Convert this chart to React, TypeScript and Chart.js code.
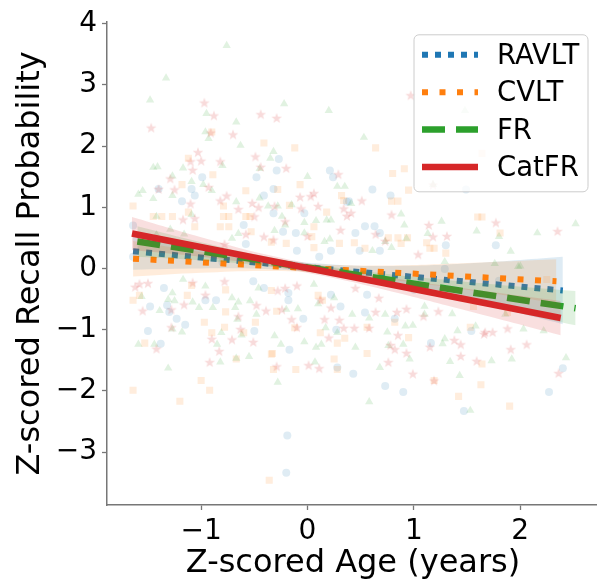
import React, { useEffect, useRef } from 'react';
import { Chart, registerables } from 'chart.js';

Chart.register(...registerables);

// ---------- data ----------
const seriesNames = ['RAVLT', 'CVLT', 'FR', 'CatFR'];
const seriesColors = ['#1f77b4', '#ff7f0e', '#2ca02c', '#d62728'];
const seriesRGB = ['31,119,180', '255,127,14', '44,160,44', '214,39,40'];
const xTicks = [-1, 0, 1, 2];
const yTicks = [-3, -2, -1, 0, 1, 2, 3, 4];

const ravltPoints: number[][] = [
  [-0.27, 1.79], [-0.29, 1.6], [0.21, 1.6], [0.24, 1.49], [-0.99, 1.49], [-0.48, 1.49], [-1.4, 1.3], [-1.09, 1.3],
  [-1.06, 1.19], [-0.32, 1.3], [-0.41, 1.19], [-1.18, 1.1], [0.37, 1.09], [-0.32, 0.9], [-0.03, 0.9], [-0.6, 0.71],
  [-0.23, 0.6], [-0.11, 0.58], [-1.64, 0.7], [-0.58, 0.4], [-0.1, 0.29], [0.11, 0.19], [0.22, 0.29], [-1.64, 0.19],
  [0.61, 1.29], [0.78, 1.19], [1.49, 1.29], [0.54, 0.69], [0.63, 0.69], [0.45, 0.58], [0.68, 0.58], [1.3, 0.38],
  [1.77, 0.38], [0.49, 0.29], [0.68, 0.29], [0.39, 1.1],
  [-1.35, -0.32], [-1.48, -0.62], [-1.32, -0.6], [-1.23, -0.82], [-1.15, -0.92], [-1.5, -1.02], [-1.38, -1.23],
  [-0.96, -0.52], [-0.86, -0.52], [-0.5, -1.02], [-0.17, -1.33], [-0.19, -2.73], [-0.51, -0.21], [-0.41, -0.32],
  [-0.18, -0.4], [-0.18, -0.52], [-0.04, -0.82], [0.31, -0.62], [0.22, -0.43], [0.27, -1.0], [0.28, -1.62],
  [-1.3, -0.71], [-0.2, -3.34],
  [0.43, -1.72], [0.73, -1.92], [0.9, -2.02], [1.47, -2.33], [2.27, -2.02], [2.4, -1.63], [1.16, -1.22],
  [1.54, -1.02], [0.82, -0.82], [0.54, -0.72], [0.56, -0.43], [1.29, -0.01], [1.0, -0.35], [1.8, -0.2], [-0.8, 0.1],
];

const cvltPoints: number[][] = [
  [-0.41, 2.05], [-0.12, 1.97], [-1.12, 1.8], [-0.89, 1.53], [-1.18, 1.37], [-0.58, 1.27], [-0.28, 1.29], [-0.07, 1.37],
  [0.32, 1.19], [0.34, 1.11], [-1.64, 1.02], [-0.79, 1.02], [-0.17, 1.03], [0.18, 0.92], [-1.45, 0.85], [-1.37, 0.85],
  [-1.27, 0.85], [-0.79, 0.85], [-0.74, 0.85], [-0.58, 0.85], [-0.54, 0.85], [-1.12, 0.92], [-1.06, 0.68], [-0.82, 0.68],
  [-0.74, 0.68], [0.06, 0.68], [-0.53, 0.6], [0.04, 0.52], [0.06, 0.34], [0.3, 0.41], [-0.34, 0.43], [-0.2, 0.41],
  [-0.9, 2.23],
  [0.95, 1.28], [0.79, 1.1], [0.85, 1.1], [1.6, 0.84], [1.64, 0.84], [1.81, 0.58], [0.76, 0.5], [0.85, 0.5],
  [0.94, 0.5], [0.88, 0.41], [0.44, 0.42], [0.54, 0.33], [1.15, 0.33], [1.19, 0.33], [1.3, 0.25], [1.12, 0.42],
  [0.64, 1.97], [1.64, 1.88], [0.91, 1.63], [0.8, 1.55],
  [-1.64, -0.52], [-1.58, -0.44], [-1.13, -0.44], [-0.97, -0.88], [-0.9, -1.05], [-0.77, -0.71], [-0.78, -0.96],
  [-0.6, -1.05], [-1.53, -1.22], [-0.67, -1.48], [-0.49, -0.88], [-0.34, -0.36], [-0.29, -0.7], [-0.34, -1.4],
  [-0.32, -1.65], [-0.11, -1.65], [-0.12, -0.97], [0.12, -1.05], [0.28, -1.22], [0.25, -1.48], [0.28, -1.65],
  [0.35, -1.14], [-1.0, -1.83], [-1.64, -1.99], [-0.92, -1.99], [-1.2, -2.17], [0.1, -0.44], [0.14, -0.52],
  [-0.77, -0.35], [-1.09, -0.28], [-0.36, -3.46], [-0.33, -1.39],
  [0.56, -1.39], [1.19, -1.83], [1.42, -2.09], [1.63, -1.9], [1.9, -2.25], [1.64, -1.56], [0.95, -1.13],
  [1.53, -0.96], [0.56, -0.96], [0.82, -0.88], [1.56, -0.62], [1.88, -0.72], [2.25, -0.18],
];

const frPoints: number[][] = [
  [-0.76, 3.64], [-1.33, 3.11], [-1.48, 2.75], [-0.22, 2.69], [0.2, 2.58], [-0.95, 2.53], [-0.67, 2.39], [-0.96, 2.23],
  [-0.93, 2.12], [-0.63, 2.01], [-0.32, 1.91], [-0.35, 1.8], [-1.45, 1.65], [-1.41, 1.66], [-1.17, 1.64], [-0.8, 1.68],
  [-0.45, 1.63], [0.0, 1.5], [-1.27, 1.51], [-1.09, 1.42], [-0.98, 1.37], [-1.59, 1.21], [-1.55, 1.27], [-1.45, 1.14],
  [-0.9, 1.27], [-1.27, 1.19], [-0.45, 1.15], [0.28, 1.34], [0.35, 1.34], [-0.67, 1.09], [-0.37, 1.02], [-0.28, 1.02],
  [-0.15, 1.04], [-1.42, 0.85], [-1.09, 0.88], [-0.24, 0.85], [-0.03, 0.75], [0.18, 0.79], [0.22, 0.79], [0.08, 0.78],
  [-0.21, 0.71], [-0.03, 0.58], [-0.31, 0.62], [0.16, 0.44], [0.21, 0.48], [-0.65, 0.57], [-0.71, 0.49], [-1.29, 0.64],
  [-1.16, 0.56], [-1.42, 0.55],
  [1.48, 2.58], [0.53, 2.14], [1.18, 1.37],
  [0.88, 0.89], [0.91, 0.71], [1.26, 0.77], [1.59, 0.61], [1.8, 0.52], [2.16, 0.58], [2.52, 0.73], [1.13, 0.57],
  [0.93, 0.49], [0.73, 0.44], [0.79, 0.34], [0.61, 0.29], [1.91, 0.28], [2.0, 0.04], [1.76, 0.08], [1.29, 0.11],
  [0.41, 1.06],
  [-1.56, -0.46], [-1.59, -1.24], [-1.44, -1.24], [-1.39, -0.69], [-1.31, -0.51], [-1.25, -0.53], [-1.27, -0.4],
  [-1.18, -1.04], [-1.27, -0.99], [-1.17, -0.18], [-1.08, -0.55], [-1.02, -0.64], [-0.89, -0.64], [-0.96, -0.29],
  [-0.82, -1.53], [-1.31, -1.63], [-0.85, -1.24], [-0.81, -1.05], [-0.71, -0.48], [-0.65, -0.55], [-0.68, -0.64],
  [-0.66, -0.83], [-0.62, -1.09], [-0.55, -1.44], [-0.54, -0.53], [-0.48, -0.75], [-0.31, -1.1], [-0.25, -1.24],
  [-0.28, -1.86], [-0.2, -0.67], [-0.09, -0.66], [-0.03, -1.2], [0.08, -1.29], [0.13, -1.24], [0.07, -1.53],
  [0.17, -0.97], [0.28, -1.05], [0.25, -0.48], [0.1, -0.58], [-0.46, -0.32], [0.06, -0.26], [-0.67, -1.47],
  [0.58, -2.18], [1.53, -2.32], [1.43, -1.75], [0.68, -1.62], [0.96, -1.48], [1.34, -1.52], [1.73, -1.51],
  [1.92, -1.48], [2.43, -1.46], [1.29, -1.15], [1.27, -1.23], [0.76, -1.26], [0.9, -1.24], [1.41, -1.02],
  [2.03, -0.99], [2.22, -1.02], [1.58, -0.94], [0.75, -1.04], [0.45, -1.29], [0.99, -0.93], [0.92, -0.94],
  [0.42, -0.75], [0.58, -0.81], [0.73, -0.75], [1.1, -0.62], [1.36, -0.74], [1.1, -0.75], [1.86, -0.75], [1.98, 0.03],
];

const catfrPoints: number[][] = [
  [-0.97, 2.71], [-0.88, 2.5], [-0.44, 2.52], [-0.29, 2.46], [-1.47, 2.3], [-0.91, 2.22], [-0.7, 2.19], [-1.03, 1.9],
  [-1.1, 1.75], [-1.0, 1.76], [-0.82, 1.75], [-0.49, 1.83], [-0.2, 1.64], [-0.44, 1.66], [-1.08, 1.61], [-1.29, 1.47],
  [0.29, 1.54], [-1.4, 1.3], [-1.25, 1.29], [-0.93, 1.33], [-0.76, 1.19], [0.06, 1.23], [0.03, 1.18], [-0.07, 1.17],
  [-1.1, 1.06], [-0.82, 1.11], [-0.52, 1.07], [-0.46, 1.0], [-0.31, 1.02], [0.1, 1.02], [-0.65, 0.97], [-0.06, 0.98],
  [0.34, 0.98], [0.37, 0.86], [-1.17, 0.8], [-1.06, 0.82], [-0.5, 0.85], [-0.21, 0.77], [0.31, 0.63], [-0.58, 0.56],
  [-0.41, 0.52], [-0.32, 0.47], [-0.78, 0.4], [0.0, 0.53], [0.97, 2.83],
  [0.51, 1.11], [0.79, 0.88], [1.18, 1.37], [1.14, 0.71], [1.77, 0.75], [2.35, 0.61], [0.64, 0.56], [0.73, 0.45],
  [1.18, 0.52], [1.31, 0.53], [1.04, 0.23], [0.41, 0.91],
  [-1.62, -0.3], [-1.58, -0.25], [-1.5, -0.24], [-1.55, -0.69], [-1.28, -0.67], [-1.28, -0.96], [-1.42, -1.31],
  [-1.16, -0.59], [-1.08, -0.23], [-0.96, -0.43], [-0.9, -1.15], [-0.83, -1.35], [-0.92, -1.53], [-0.71, -1.16],
  [-0.65, -0.78], [-0.63, -0.99], [-0.51, -1.2], [-0.48, -0.6], [-0.39, -0.69], [-0.28, -0.36], [-0.21, -0.32],
  [-0.24, -0.67], [-0.15, -0.83], [-0.1, -0.96], [-0.29, -1.6], [0.01, -1.58], [0.11, -1.63], [0.16, -0.83],
  [0.2, -1.13], [0.3, -0.84], [0.22, -0.64], [0.34, -0.97], [-0.1, -0.28], [0.12, -0.51], [-0.78, -0.21],
  [0.64, -0.71], [0.58, -0.97], [0.44, -0.97], [0.85, -1.09], [0.78, -1.25], [0.82, -1.32], [0.93, -1.38],
  [0.76, -1.53], [1.15, -1.28], [1.38, -1.17], [1.44, -1.24], [1.44, -1.43], [1.59, -1.51], [0.99, -1.72],
  [1.19, -1.83], [1.67, -1.04], [1.74, -1.04], [1.91, -1.32], [2.06, -1.24], [2.36, -1.71], [1.09, -0.78],
  [1.23, -0.7], [0.93, -0.66], [0.84, -0.71], [0.67, -0.48], [1.88, -0.98], [1.66, -1.07], [0.45, -0.32],
];

// regression lines (endpoints)
const ravltLineX = [-1.64, 2.4];
const ravltLineY = [0.28, -0.36];
const cvltLineX = [-1.64, 2.34];
const cvltLineY = [0.16, -0.21];
const frLineX = [-1.6, 2.52];
const frLineY = [0.44, -0.65];
const catfrLineX = [-1.65, 2.38];
const catfrLineY = [0.57, -0.81];

// confidence bands
const ravltBandX = [-1.64, -1.0, -0.4, 0.2, 0.8, 1.5, 2.4];
const ravltBandLow = [-0.02, 0.0, -0.01, -0.09, -0.26, -0.52, -0.91];
const ravltBandHigh = [0.58, 0.36, 0.17, 0.07, 0.04, 0.08, 0.19];
const cvltBandX = [-1.64, -1.0, -0.4, 0.2, 0.8, 1.5, 2.34];
const cvltBandLow = [-0.13, -0.07, -0.04, -0.08, -0.19, -0.35, -0.57];
const cvltBandHigh = [0.45, 0.27, 0.12, 0.06, 0.05, 0.09, 0.15];
const frBandX = [-1.6, -1.0, -0.4, 0.2, 0.8, 1.5, 2.52];
const frBandLow = [0.19, 0.13, 0.04, -0.11, -0.3, -0.54, -0.93];
const frBandHigh = [0.69, 0.43, 0.2, 0.03, -0.1, -0.22, -0.37];
const catfrBandX = [-1.65, -1.0, -0.4, 0.2, 0.8, 1.5, 2.38];
const catfrBandLow = [0.3, 0.19, 0.05, -0.14, -0.38, -0.69, -1.09];
const catfrBandHigh = [0.84, 0.51, 0.23, 0.02, -0.16, -0.33, -0.53];

const allPoints = [ravltPoints, cvltPoints, frPoints, catfrPoints];
const allLineX = [ravltLineX, cvltLineX, frLineX, catfrLineX];
const allLineY = [ravltLineY, cvltLineY, frLineY, catfrLineY];
const allBandX = [ravltBandX, cvltBandX, frBandX, catfrBandX];
const allBandLow = [ravltBandLow, cvltBandLow, frBandLow, catfrBandLow];
const allBandHigh = [ravltBandHigh, cvltBandHigh, frBandHigh, catfrBandHigh];

// ---------- styles ----------
const lineDashes = [[6, 7], [6, 11.5], [23, 11], []];
const lineWidths = [6, 6, 6.5, 6.5];
const FONT = 'DejaVu Sans';
const AXIS_COLOR = '#777777';
const TICK_SIZE = 28;
const TITLE_SIZE = 32;
const LEGEND_SIZE = 27.5;

function fmt(v: number) {
  return v < 0 ? '\u2212' + Math.abs(v) : String(v);
}

function makeStar(rgba: string) {
  const c = document.createElement('canvas');
  const s = 12;
  c.width = s;
  c.height = s;
  const ctx = c.getContext('2d')!;
  const cx = s / 2, cy = s / 2 + 0.5, R = 5.6, r = 2.3;
  ctx.beginPath();
  for (let i = 0; i < 10; i++) {
    const rad = i % 2 === 0 ? R : r;
    const a = -Math.PI / 2 + (i * Math.PI) / 5;
    const px = cx + rad * Math.cos(a);
    const py = cy + rad * Math.sin(a);
    if (i === 0) ctx.moveTo(px, py); else ctx.lineTo(px, py);
  }
  ctx.closePath();
  ctx.fillStyle = rgba;
  ctx.fill();
  return c;
}

const legendPlugin = {
  id: 'customLegend',
  afterDraw(chart: any) {
    const { ctx, chartArea } = chart;
    const bw = 174, bh = 157;
    const bx = chartArea.right - bw - 11;
    const by = chartArea.top + 13;
    ctx.save();
    ctx.beginPath();
    const r = 5;
    ctx.moveTo(bx + r, by);
    ctx.lineTo(bx + bw - r, by);
    ctx.arcTo(bx + bw, by, bx + bw, by + r, r);
    ctx.lineTo(bx + bw, by + bh - r);
    ctx.arcTo(bx + bw, by + bh, bx + bw - r, by + bh, r);
    ctx.lineTo(bx + r, by + bh);
    ctx.arcTo(bx, by + bh, bx, by + bh - r, r);
    ctx.lineTo(bx, by + r);
    ctx.arcTo(bx, by, bx + r, by, r);
    ctx.closePath();
    ctx.fillStyle = 'rgba(255,255,255,0.8)';
    ctx.fill();
    ctx.lineWidth = 1;
    ctx.strokeStyle = '#cccccc';
    ctx.stroke();

    for (let i = 0; i < seriesNames.length; i++) {
      const cy = by + 20 + i * 37.4;
      ctx.beginPath();
      ctx.setLineDash(lineDashes[i]);
      ctx.lineCap = 'butt';
      ctx.lineWidth = lineWidths[i];
      ctx.strokeStyle = seriesColors[i];
      ctx.moveTo(bx + 8, cy);
      ctx.lineTo(bx + 64, cy);
      ctx.stroke();
      ctx.setLineDash([]);
      ctx.fillStyle = '#000';
      ctx.font = `${LEGEND_SIZE}px "${FONT}"`;
      ctx.textBaseline = 'middle';
      ctx.textAlign = 'left';
      ctx.fillText(seriesNames[i], bx + 83, cy + 1.8);
    }
    ctx.restore();
  },
};

export default function App() {
  const ref = useRef<HTMLCanvasElement | null>(null);

  useEffect(() => {
    if (!ref.current) return;
    const styles: any[] = ['circle', 'rect', 'triangle', makeStar(`rgba(${seriesRGB[3]},0.17)`)];
    const radii = [4, 5, 4.8, 6];

    const datasets: any[] = [];
    let seq = 0;
    for (let s = 0; s < 4; s++) {
      datasets.push({
        type: 'scatter',
        label: seriesNames[s] + ' points',
        data: allPoints[s].map((p) => ({ x: p[0], y: p[1] })),
        pointStyle: styles[s],
        pointRadius: radii[s],
        pointBackgroundColor: `rgba(${seriesRGB[s]},0.14)`,
        pointBorderWidth: 0,
        pointBorderColor: 'rgba(0,0,0,0)',
        order: 100 - seq++,
      });
      datasets.push({
        type: 'line',
        label: seriesNames[s],
        data: allLineX[s].map((x, i) => ({ x, y: allLineY[s][i] })),
        borderColor: seriesColors[s],
        borderWidth: lineWidths[s],
        borderDash: lineDashes[s],
        borderCapStyle: 'butt',
        pointRadius: 0,
        fill: false,
        tension: 0,
        order: 100 - seq++,
      });
      datasets.push({
        type: 'line',
        label: seriesNames[s] + ' ci low',
        data: allBandX[s].map((x, i) => ({ x, y: allBandLow[s][i] })),
        borderColor: 'rgba(0,0,0,0)',
        borderWidth: 1,
        pointRadius: 0,
        fill: false,
        tension: 0.4,
        order: 100 - seq++,
      });
      datasets.push({
        type: 'line',
        label: seriesNames[s] + ' ci high',
        data: allBandX[s].map((x, i) => ({ x, y: allBandHigh[s][i] })),
        borderColor: 'rgba(0,0,0,0)',
        borderWidth: 1,
        backgroundColor: `rgba(${seriesRGB[s]},0.15)`,
        pointRadius: 0,
        fill: '-1',
        tension: 0.4,
        order: 100 - seq++,
      });
    }

    const chart = new Chart(ref.current, {
      type: 'scatter',
      data: { datasets },
      plugins: [legendPlugin],
      options: {
        animation: false,
        responsive: true,
        maintainAspectRatio: false,
        events: [],
        layout: { padding: { top: 18, right: 0, left: 0, bottom: 0 } },
        plugins: { legend: { display: false }, tooltip: { enabled: false } },
        scales: {
          x: {
            type: 'linear',
            min: -1.885,
            max: 2.74,
            afterBuildTicks: (scale: any) => {
              scale.ticks = xTicks.map((v) => ({ value: v }));
            },
            afterFit: (scale: any) => {
              scale.height = 79;
            },
            ticks: {
              font: { family: FONT, size: TICK_SIZE },
              color: '#000',
              padding: 4.5,
              maxRotation: 0,
              callback: (v: any) => fmt(Number(v)),
            },
            grid: {
              display: true,
              drawOnChartArea: false,
              drawTicks: true,
              tickLength: 5,
              tickColor: AXIS_COLOR,
              tickWidth: 1.3,
            },
            border: { display: true, color: AXIS_COLOR, width: 1.5 },
            title: {
              display: true,
              text: 'Z-scored Age (years)',
              font: { family: FONT, size: TITLE_SIZE },
              color: '#000',
              padding: { top: 0, bottom: 1 },
            },
          },
          y: {
            type: 'linear',
            min: -3.865,
            max: 4.03,
            afterBuildTicks: (scale: any) => {
              scale.ticks = yTicks.map((v) => ({ value: v }));
            },
            afterFit: (scale: any) => {
              scale.width = 107;
            },
            ticks: {
              font: { family: FONT, size: TICK_SIZE },
              color: '#000',
              padding: 5,
              callback: (v: any) => fmt(Number(v)),
            },
            grid: {
              display: true,
              drawOnChartArea: false,
              drawTicks: true,
              tickLength: 5,
              tickColor: AXIS_COLOR,
              tickWidth: 1.3,
            },
            border: { display: true, color: AXIS_COLOR, width: 1.5 },
            title: {
              display: true,
              text: 'Z-scored Recall Probability',
              font: { family: FONT, size: TITLE_SIZE },
              color: '#000',
              padding: { top: 11, bottom: 0 },
            },
          },
        },
      } as any,
    });
    return () => chart.destroy();
  }, []);

  return (
    <div style={{ position: 'absolute', left: 0, top: 0, width: 597, height: 584, overflow: 'hidden' }}>
      <div style={{ position: 'relative', width: 605, height: 584 }}>
        <canvas ref={ref} />
      </div>
    </div>
  );
}
